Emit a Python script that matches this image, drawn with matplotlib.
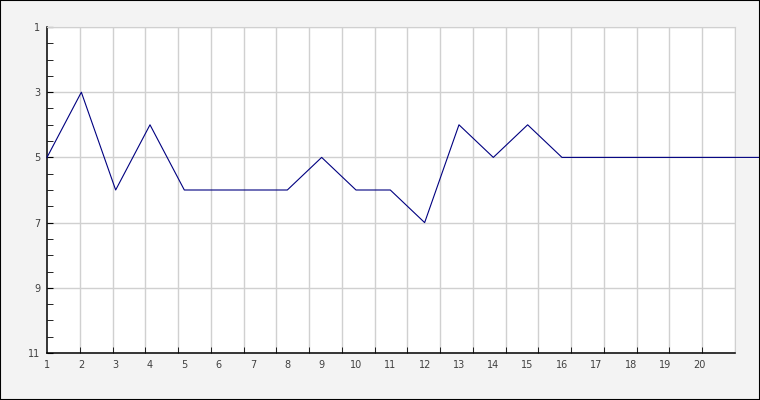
import matplotlib
matplotlib.use('Agg')
import matplotlib.pyplot as plt
import numpy as np

# series values (last point runs past the right edge)
x_vals = [1, 2, 3, 4, 5, 6, 7, 8, 9, 10, 11, 12, 13, 14, 15, 16, 22]
y_vals = [5, 3, 6, 4, 6, 6, 6, 6, 5, 6, 6, 7, 4, 5, 4, 5, 5]
x_labels = [str(i) for i in range(1, 21)]
y_ticks = [1, 3, 5, 7, 9, 11]

fig = plt.figure(figsize=(7.6, 4.0), dpi=100, facecolor='#f3f3f3')
fig.patches.append(plt.Rectangle((0, 0), 1, 1, transform=fig.transFigure,
                                 fill=False, edgecolor='black', linewidth=1.5))
ax = fig.add_axes([47 / 760, 1 - 353 / 400, 688 / 760, 326 / 400])
ax.set_facecolor('white')

ax.plot(x_vals, y_vals, color='#000080', linewidth=0.8, clip_on=False, zorder=3)

ax.set_xlim(1, 21.04)
ax.set_ylim(11, 1)

# labels sit on the data positions, tick marks/grid use their own spacing
ax.set_xticks(range(1, 21))
ax.set_xticklabels(x_labels)
ax.set_xticks(np.linspace(1, 21.04, 22), minor=True)
ax.tick_params(axis='x', which='major', length=0, pad=5)
ax.tick_params(axis='x', which='minor', length=4, direction='in', color='black')
ax.grid(True, axis='x', which='minor', color='#d0d0d0', linewidth=1)

ax.set_yticks(y_ticks)
ax.set_yticks(np.arange(1, 11.01, 0.5), minor=True)
ax.tick_params(axis='y', which='both', length=4, direction='in', pad=5)
ax.grid(True, axis='y', which='major', color='#d0d0d0', linewidth=1)
ax.set_axisbelow(True)

for lbl in ax.get_xticklabels() + ax.get_yticklabels():
    lbl.set_fontsize(7)
    lbl.set_color('#404040')

ax.spines['top'].set_color('#d0d0d0')
ax.spines['right'].set_color('#d0d0d0')
ax.spines['left'].set_linewidth(1.1)
ax.spines['bottom'].set_linewidth(1.1)

fig.savefig('out.png', dpi=100, facecolor=fig.get_facecolor())
